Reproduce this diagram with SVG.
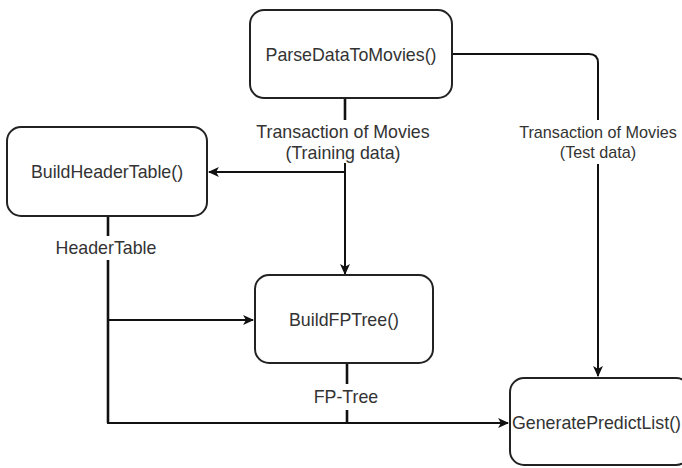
<svg xmlns="http://www.w3.org/2000/svg" width="682" height="468" viewBox="0 0 682 468">
<defs>
<marker id="arr" viewBox="0 0 10 10" refX="9" refY="5" markerWidth="11" markerHeight="11" markerUnits="userSpaceOnUse" orient="auto">
<path d="M0,0.5 L10,5 L0,9.5 L2.5,5 Z" fill="#111"/>
</marker>
<style>
.box{fill:#fff;stroke:#222;stroke-width:2}
.nt{font-family:"Liberation Sans",Arial,sans-serif;font-size:17.8px;fill:#333;text-anchor:middle;dominant-baseline:central}
.lb{font-family:"Liberation Sans",Arial,sans-serif;font-size:17.8px;fill:#333;text-anchor:middle;dominant-baseline:central}
.lbs{font-family:"Liberation Sans",Arial,sans-serif;font-size:16.2px;fill:#333;text-anchor:middle;dominant-baseline:central}
.ln{fill:none;stroke:#111;stroke-width:2}
.lnk{fill:none;stroke:#111;stroke-width:2.6}
</style>
</defs>
<rect width="682" height="468" fill="#fff"/>
<g id="connectors">
<path class="lnk" d="M345,98 V120"/>
<path class="ln" d="M345,163 V274" marker-end="url(#arr)"/>
<path class="ln" d="M345,172 H209" marker-end="url(#arr)"/>
<path class="ln" d="M452,54 H589 Q598,54 598,63 V120"/>
<path class="ln" d="M598,164 V376" marker-end="url(#arr)"/>
<path class="lnk" d="M108,216 V236"/>
<path class="lnk" d="M108,260 V423"/>
<path class="ln" d="M107,423 H508" marker-end="url(#arr)"/>
<path class="ln" d="M108,320 H253" marker-end="url(#arr)"/>
<path class="lnk" d="M347,363 V384"/>
<path class="lnk" d="M347,410 V423"/>
<text class="lb" x="343" y="132">Transaction of Movies</text>
<text class="lb" x="343" y="153">(Training data)</text>
<text class="lbs" x="598" y="132">Transaction of Movies</text>
<text class="lbs" x="598" y="152">(Test data)</text>
<text class="lb" x="106" y="248">HeaderTable</text>
<text class="lb" x="346" y="397">FP-Tree</text>
</g>
<g id="parse">
<rect class="box" x="250" y="10" width="202" height="88" rx="14"/>
<text class="nt" x="351" y="55">ParseDataToMovies()</text>
</g>
<g id="header">
<rect class="box" x="7" y="127" width="200" height="89" rx="14"/>
<text class="nt" x="107" y="172">BuildHeaderTable()</text>
</g>
<g id="fptree">
<rect class="box" x="255" y="275" width="178" height="88" rx="14"/>
<text class="nt" x="344" y="320">BuildFPTree()</text>
</g>
<g id="predict">
<rect class="box" x="510" y="378" width="180" height="87" rx="14"/>
<text class="nt" x="512" y="423" style="text-anchor:start">GeneratePredictList()</text>
</g>
</svg>
